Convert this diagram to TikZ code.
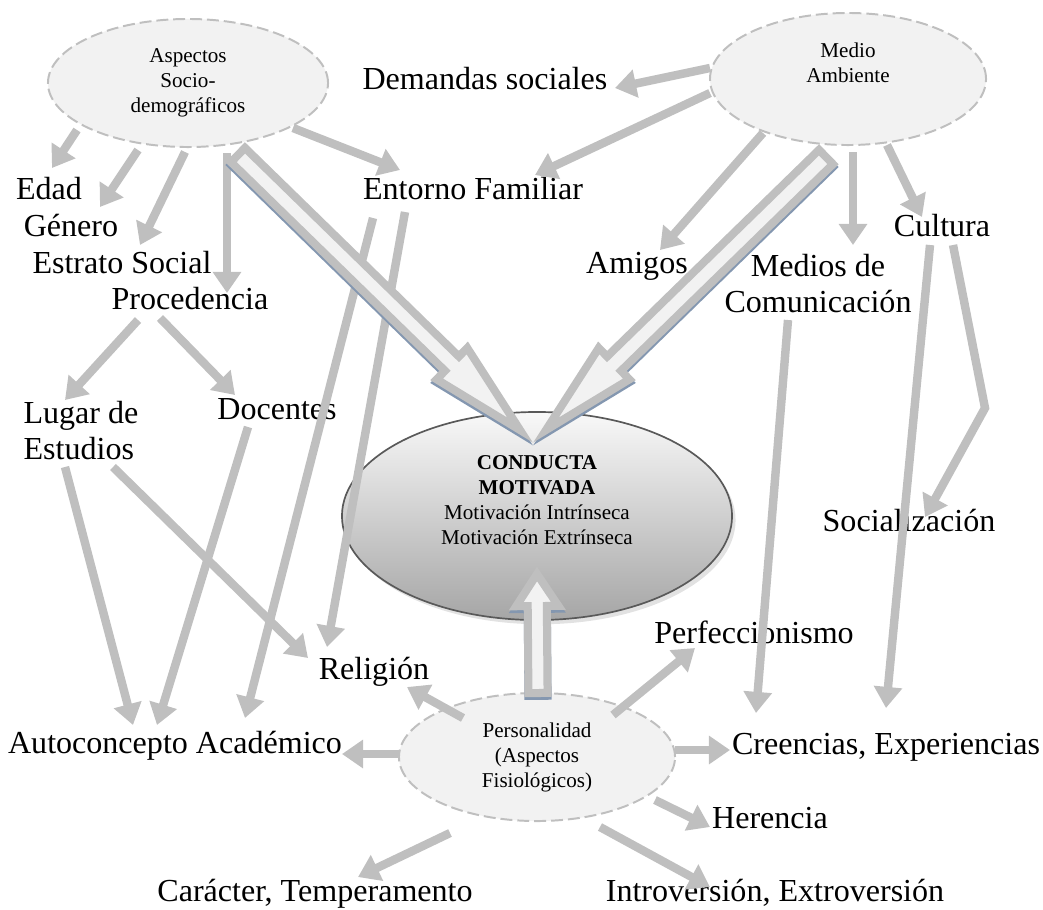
\documentclass[tikz,border=0pt]{standalone}
\usepackage{fontspec}
\setmainfont{Liberation Serif}
\usetikzlibrary{calc, shapes.geometric, arrows.meta, shadows}

\definecolor{arrowgray}{HTML}{BFBFBF}
\definecolor{softfill}{HTML}{F2F2F2}
\definecolor{shadowblue}{HTML}{8497B0}
\definecolor{rimgray}{HTML}{595959}

% hollow block arrow: prefix, tail, tip, half shaft, half head, head length
\newcommand{\hollowarrow}[6]{%
  \coordinate (#1b) at ($(#3)!#6!(#2)$);
  \coordinate (#1t1) at ($(#2)!#4!90:(#3)$);
  \coordinate (#1t2) at ($(#2)!#4!-90:(#3)$);
  \coordinate (#1s1) at ($(#1b)!#4!90:(#3)$);
  \coordinate (#1s2) at ($(#1b)!#4!-90:(#3)$);
  \coordinate (#1h1) at ($(#1b)!#5!90:(#3)$);
  \coordinate (#1h2) at ($(#1b)!#5!-90:(#3)$);
  \begin{scope}[transform canvas={yshift=-2pt}]
    \filldraw[bigshadow] (#1t1) -- (#1s1) -- (#1h1) -- (#3) -- (#1h2) -- (#1s2) -- (#1t2) -- cycle;
  \end{scope}
  \filldraw[bigarrow] (#1t1) -- (#1s1) -- (#1h1) -- (#3) -- (#1h2) -- (#1s2) -- (#1t2) -- cycle;
}

\begin{document}
\begin{tikzpicture}[x=0.025cm, y=-0.025cm,
  lbl/.style={font=\fontsize{22.8}{25.6}\selectfont, inner sep=0pt, text height=0.69em, text depth=0.22em},
  mlbl/.style={font=\fontsize{22.8}{25.6}\selectfont, inner sep=0pt},
  soft/.style={ellipse, draw=arrowgray, fill=softfill, line width=1.4pt, dash pattern=on 8.5pt off 3.5pt,
    inner sep=0pt, align=center, font=\fontsize{15}{17.8}\selectfont},
  link/.style={draw=arrowgray, line width=6pt, -{Triangle[length=15pt,width=19.5pt]}},
  bigarrow/.style={draw=arrowgray, fill=softfill, line width=5.7pt},
  bigshadow/.style={draw=shadowblue, fill=shadowblue, line width=5.7pt}]
  \useasboundingbox (0,0) rectangle (1043,909);

  % central ellipse
  \node[ellipse, minimum width=9.75cm, minimum height=5.2cm, inner sep=0pt, draw=rimgray, line width=1.2pt,
    top color=gray!5, bottom color=gray!70, drop shadow={shadow xshift=2.5pt, shadow yshift=-3pt, fill=gray!45},
    align=center, font=\fontsize{15}{17.8}\selectfont] (con) at (537,516)
    {\textbf{CONDUCTA}\\\textbf{MOTIVADA}\\Motivación Intrínseca\\Motivación Extrínseca\\\strut};

  % the three sources
  \node[soft, minimum width=7cm, minimum height=3.2cm] (asp) at (188,83) {Aspectos\\Socio-\\demográficos};
  \node[soft, minimum width=6.9cm, minimum height=3.3cm] (med) at (848,79) {Medio\\Ambiente\\\strut};
  \node[soft, minimum width=6.9cm, minimum height=3.2cm] (per) at (537,757) {Personalidad\\(Aspectos\\Fisiológicos)};

  % labels
  \node[lbl] (dem) at (485,86) {Demandas sociales};
  \node[lbl] (edad) at (49,196) {Edad};
  \node[lbl] (gen) at (71,233) {Género};
  \node[lbl] (est) at (122,270) {Estrato Social};
  \node[lbl] (proc) at (190,306) {Procedencia};
  \node[lbl] (ent) at (473,196) {Entorno Familiar};
  \node[mlbl, align=left] (lug) at (81,431) {Lugar de\\Estudios};
  \node[lbl] (doc) at (277,416) {Docentes};
  \node[lbl] (ami) at (637,270) {Amigos};
  \node[mlbl, align=center] (mdc) at (818,284) {Medios de\\Comunicación};
  \node[lbl] (cul) at (942,233) {Cultura};
  \node[lbl] (soc) at (909,528) {Socialización};
  \node[lbl] (perf) at (754,640) {Perfeccionismo};
  \node[lbl] (rel) at (374,676) {Religión};
  \node[lbl] (auto) at (175,750) {Autoconcepto Académico};
  \node[lbl] (cre) at (886,751) {Creencias, Experiencias};
  \node[lbl] (her) at (770,825) {Herencia};
  \node[lbl] (intr) at (775,898) {Introversión, Extroversión};
  \node[lbl] (car) at (315,898) {Carácter, Temperamento};

  % arrows out of Aspectos
  \draw[link] ($(asp)+(-111,47)$) -- ($(edad)+(3,-28)$);
  \draw[link] ($(asp)+(-50,67)$) -- ($(gen)+(29,-26)$);
  \draw[link] ($(asp)+(-3,69)$) -- ($(est)+(18,-25)$);
  \draw[link] ($(asp)+(39,70)$) -- ($(proc)+(37,-13)$);
  \draw[link] ($(asp)+(105,45)$) -- ($(ent)+(-73,-26)$);

  % arrows out of Medio Ambiente
  \draw[link] ($(med)+(-138,-11)$) -- ($(dem)+(130,2)$);
  \draw[link] ($(med)+(-138,14)$) -- ($(ent)+(62,-21)$);
  \draw[link] ($(med)+(-85,54)$) -- ($(ami)+(23,-20)$);
  \draw[link] ($(med)+(5,73)$) -- ($(mdc)+(35,-39)$);
  \draw[link] ($(med)+(39,66)$) -- ($(cul)+(-20,-16)$);

  % second level
  \draw[link] ($(ent)+(-100,22)$) -- ($(auto)+(70,-32)$);
  \draw[link] ($(ent)+(-68,16)$) -- ($(rel)+(-47,-29)$);
  \draw[link] ($(proc)+(-52,14)$) -- ($(lug)+(-16,-31)$);
  \draw[link] ($(proc)+(-30,12)$) -- ($(doc)+(-42,-21)$);
  \draw[link] ($(lug)+(-16,36)$) -- ($(auto)+(-42,-25)$);
  \draw[link] ($(lug)+(32,36)$) -- ($(rel)+(-66,-18)$);
  \draw[link] ($(doc)+(-29,11)$) -- ($(auto)+(-18,-25)$);
  \draw[link] ($(mdc)+(-30,36)$) -- ($(cre)+(-130,-38)$);
  \draw[link] ($(cul)+(-12,12)$) -- ($(cre)+(0,-43)$);
  \coordinate (bend) at (985,408);
  \draw[link] ($(cul)+(11,12)$) -- (bend) -- ($(soc)+(16,-11)$);

  % arrows out of Personalidad
  \draw[link] ($(per)+(-74,-39)$) -- ($(rel)+(33,11)$);
  \draw[link] ($(per)+(76,-42)$) -- ($(perf)+(-59,8)$);
  \draw[link] ($(per)+(-137,-3)$) -- ($(auto)+(167,4)$);
  \draw[link] ($(per)+(138,-7)$) -- ($(cre)+(-156,-1)$);
  \draw[link] ($(per)+(118,43)$) -- ($(her)+(-60,2)$);
  \draw[link] ($(per)+(63,70)$) -- ($(intr)+(-65,-11)$);
  \draw[link] ($(per)+(-87,76)$) -- ($(car)+(43,-21)$);

  % big arrows into the central ellipse
  \coordinate (atail) at ($(asp)+(50,72)$);
  \coordinate (atip) at ($(con)+(-17,-86)$);
  \hollowarrow{a}{atail}{atip}{7.1pt}{15.6pt}{67.6pt}
  \coordinate (mtail) at ($(med)+(-22,78)$);
  \coordinate (mtip) at ($(con)+(9,-86)$);
  \hollowarrow{m}{mtail}{mtip}{7.1pt}{15.6pt}{67.6pt}
  \coordinate (ptail) at ($(per)+(1,-64)$);
  \coordinate (ptip) at ($(con)+(0,58)$);
  \hollowarrow{p}{ptail}{ptip}{6.8pt}{15pt}{22.8pt}
\end{tikzpicture}
\end{document}
